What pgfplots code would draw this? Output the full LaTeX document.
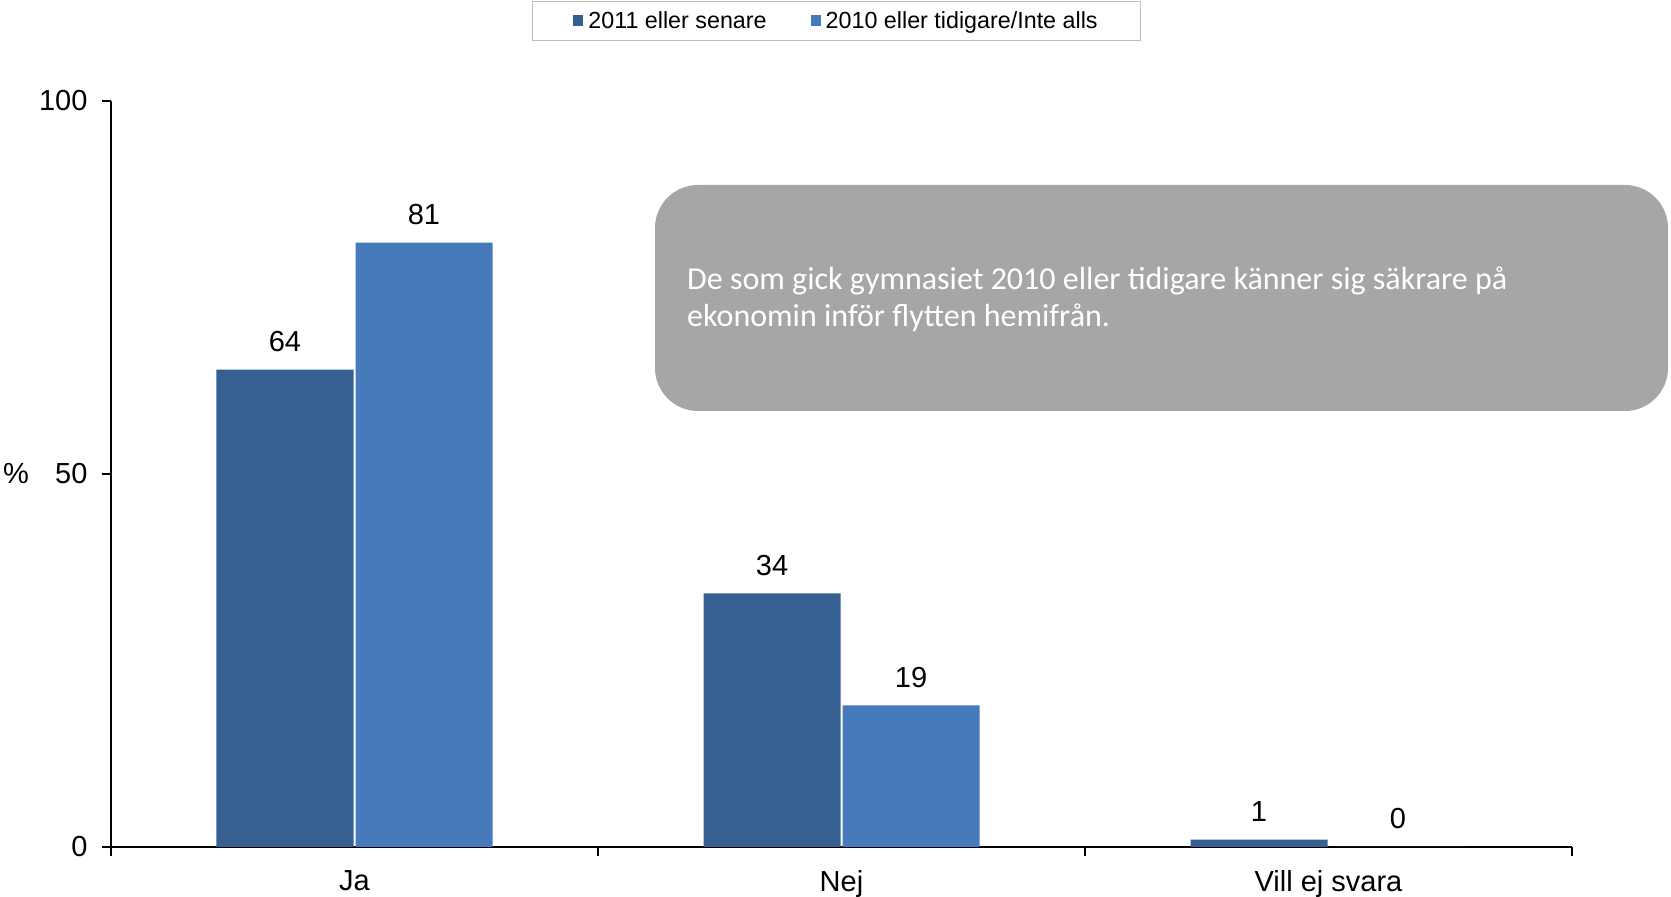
\documentclass[border=0pt]{standalone}
\usepackage{fontspec}
\setmainfont{Liberation Sans}
\newfontfamily\calibri{Carlito}
\usepackage{pgfplots}
\pgfplotsset{compat=1.18}
\definecolor{darkbar}{RGB}{55,96,146}
\definecolor{lightbar}{RGB}{70,122,187}
\definecolor{boxgray}{RGB}{166,166,166}
\definecolor{legframe}{RGB}{190,190,190}
\begin{document}
\begin{tikzpicture}[x=1pt,y=1pt]
\useasboundingbox (-111,-50) rectangle (1560,847);
\begin{axis}[at={(0,0)}, anchor=south west, scale only axis,
  width=1461pt, height=746pt,
  xmin=-0.5, xmax=2.5, ymin=0, ymax=100,
  axis lines=left, axis line style={-, line width=1.3pt},
  ybar, bar width=137pt,
  xtick={-0.5,0.5,1.5,2.5}, x tick label as interval,
  xticklabels={Ja,Nej,Vill ej svara},
  ytick={0,50,100},
  tick align=outside, major tick length=9pt,
  tick style={black, line width=1.3pt},
  ticklabel style={font=\fontsize{29}{34}\selectfont},
  yticklabel style={xshift=-11pt},
  xticklabel style={yshift=-11pt},
  /pgf/number format/assume math mode=true,
  every axis y label/.style={at={(axis description cs:0,0.5)}, anchor=center, xshift=-95pt, font=\fontsize{29}{34}\selectfont},
  ylabel={\%},
  nodes near coords,
  every node near coord/.append style={font=\fontsize{29}{34}\selectfont, anchor=center, yshift=28pt, text=black},
  legend style={at={(0.4966,1)}, anchor=center, yshift=80pt, draw=legframe, line width=1.3pt,
    font=\fontsize{23.3}{27}\selectfont, inner xsep=41pt, inner ysep=8pt,
    /tikz/every odd column/.append style={column sep=3pt},
    /tikz/every even column/.append style={column sep=42pt}},
  legend columns=2,
  legend image code/.code={\fill[#1] (0pt,-5pt) rectangle (10pt,6pt);},
]
\addplot[fill=darkbar, draw=none, bar shift=-69.5pt] coordinates {(0,64) (1,34) (2,1)};
\addplot[fill=lightbar, draw=none, bar shift=69.5pt] coordinates {(0,81) (1,19) (2,0)};
\legend{2011 eller senare, 2010 eller tidigare/Inte alls}
\end{axis}
\fill[boxgray, rounded corners=43pt] (544,436) rectangle (1557,662);
\node[anchor=west, inner sep=0pt, text=white, font=\calibri\fontsize{32}{37.5}\selectfont, align=left] at (576,548) {De som gick gymnasiet 2010 eller tidigare känner sig säkrare på\\ekonomin inför flytten hemifrån.};
\end{tikzpicture}
\end{document}
